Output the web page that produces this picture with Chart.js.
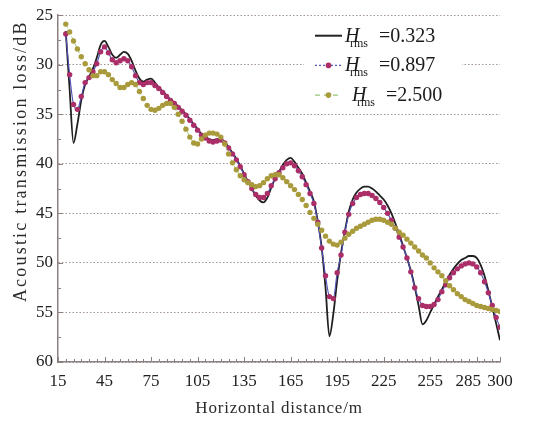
<!DOCTYPE html>
<html>
<head>
<meta charset="utf-8">
<script src="https://cdn.jsdelivr.net/npm/chart.js@4.4.1/dist/chart.umd.min.js"></script>
<style>
  html, body { margin: 0; padding: 0; background: #fff; }
  #wrap { width: 545px; height: 423px; }
</style>
</head>
<body>
<div id="wrap"><canvas id="myChart" width="545" height="423"></canvas></div>
<script>
// horizontal distance (m)
const distance = [
  20, 22.5, 25, 27.5, 30, 32.5, 35, 37.5, 40, 42.5,
  45, 47.5, 50, 52.5, 55, 57.5, 60, 62.5, 65, 67.5,
  70, 72.5, 75, 77.5, 80, 82.5, 85, 87.5, 90, 92.5,
  95, 97.5, 100, 102.5, 105, 107.5, 110, 112.5, 115, 117.5,
  120, 122.5, 125, 127.5, 130, 132.5, 135, 137.5, 140, 142.5,
  145, 147.5, 150, 152.5, 155, 157.5, 160, 162.5, 165, 167.5,
  170, 172.5, 175, 177.5, 180, 182.5, 185, 187.5, 190, 192.5,
  195, 197.5, 200, 202.5, 205, 207.5, 210, 212.5, 215, 217.5,
  220, 222.5, 225, 227.5, 230, 232.5, 235, 237.5, 240, 242.5,
  245, 247.5, 250, 252.5, 255, 257.5, 260, 262.5, 265, 267.5,
  270, 272.5, 275, 277.5, 280, 282.5, 285, 287.5, 290, 292.5,
  295, 297.5, 300
];

// transmission loss (dB), H_rms = 0.323
const loss0323 = [
  26.6, 32.5, 37.9, 36.0, 33.6, 32.0, 31.2, 30.4, 29.3, 28.0,
  27.6, 28.2, 29.0, 29.3, 29.0, 28.7, 28.9, 29.6, 30.6, 31.4,
  31.7, 31.5, 31.4, 31.8, 32.3, 32.7, 33.1, 33.5, 33.8, 34.2,
  34.6, 35.0, 35.5, 36.0, 36.5, 37.0, 37.3, 37.5, 37.6, 37.5,
  37.5, 37.8, 38.3, 38.9, 39.5, 40.2, 41.0, 41.8, 42.5, 43.2,
  43.7, 43.9, 43.4, 42.4, 41.5, 40.8, 40.1, 39.6, 39.4, 39.8,
  40.4, 41.0, 41.9, 42.8, 43.8, 45.8, 48.4, 52.5, 57.4, 55.2,
  51.8, 49.0, 46.8, 44.8, 43.6, 42.9, 42.5, 42.3, 42.3, 42.5,
  42.8, 43.2, 43.6, 44.2, 45.0, 46.0, 47.1, 48.3, 49.5, 50.8,
  52.4, 54.3, 56.2, 55.8, 55.0, 54.2, 53.4, 52.7, 51.9, 51.2,
  50.6, 50.1, 49.7, 49.5, 49.3, 49.3, 49.5, 50.2, 51.3, 52.8,
  54.4, 56.1, 57.8
];

// H_rms = 0.897
const loss0897 = [
  26.9, 31.0, 34.0, 34.5, 33.2, 31.8, 31.3, 30.7, 29.9, 28.7,
  28.2, 28.8, 29.5, 29.8, 29.6, 29.4, 29.6, 30.2, 31.1, 31.8,
  32.0, 31.8, 31.8, 32.1, 32.4, 32.8, 33.2, 33.6, 33.9, 34.3,
  34.7, 35.1, 35.6, 36.1, 36.6, 37.1, 37.4, 37.7, 37.8, 37.7,
  37.6, 37.9, 38.4, 39.0, 39.6, 40.3, 41.1, 41.8, 42.5, 43.1,
  43.4, 43.4, 43.0, 42.2, 41.5, 40.9, 40.4, 40.0, 39.9, 40.2,
  40.7, 41.3, 42.1, 43.0, 44.0, 45.9, 48.5, 51.3, 53.4, 53.6,
  51.0, 49.2, 46.9, 45.1, 44.0, 43.4, 43.1, 43.0, 43.0, 43.2,
  43.5, 43.9, 44.4, 45.0, 45.7, 46.5, 47.4, 48.4, 49.5, 50.9,
  52.5, 53.6, 54.3, 54.4, 54.4, 54.2, 53.7, 52.9, 52.2, 51.5,
  51.0, 50.6, 50.3, 50.1, 50.0, 50.1, 50.4, 51.0, 51.9, 53.0,
  54.3, 55.5, 56.5
];

// H_rms = 2.500
const loss2500 = [
  25.9, 26.7, 27.6, 28.4, 29.2, 29.9, 30.5, 31.1, 31.1, 30.7,
  30.7, 31.0, 31.5, 31.9, 32.3, 32.3, 32.0, 31.8, 32.0, 32.7,
  33.4, 34.1, 34.5, 34.6, 34.4, 34.1, 33.9, 33.9, 34.3, 35.0,
  35.7, 36.5, 37.3, 37.9, 38.0, 37.5, 37.1, 36.9, 36.9, 37.0,
  37.3, 38.0, 39.0, 39.9, 40.6, 41.2, 41.6, 41.9, 42.1, 42.3,
  42.2, 41.9, 41.5, 41.2, 41.1, 41.1, 41.4, 41.8, 42.2, 42.6,
  43.1, 43.6, 44.2, 44.9, 45.5, 46.1, 46.7, 47.3, 47.8, 48.1,
  48.2, 47.9, 47.5, 47.1, 46.8, 46.5, 46.3, 46.1, 45.9, 45.7,
  45.6, 45.6, 45.7, 45.9, 46.1, 46.5, 46.9, 47.2, 47.6, 48.0,
  48.4, 48.8, 49.2, 49.5, 50.0, 50.5, 50.9, 51.3, 51.8, 52.3,
  52.7, 53.1, 53.4, 53.7, 53.9, 54.1, 54.3, 54.4, 54.5, 54.6,
  54.7, 54.8, 54.9
];

const roughness = ["0.323", "0.897", "2.500"];
const xTickLabels = [15, 45, 75, 105, 135, 165, 195, 225, 255, 285, 300];
const yTickLabels = [25, 30, 35, 40, 45, 50, 55, 60];

const axisColor = "#8d8080";
const gridColor = "#a39494";
const serif = '"Liberation Serif", "Times New Roman", serif';

const toPoints = (vals) => distance.map((d, i) => ({ x: d, y: vals[i] }));

// legend sample styles, same order as datasets
const legendStyles = [
  { line: "#222222", dash: [], marker: null },
  { line: "#5a5ac0", dash: [2, 2], marker: "#ab2e69" },
  { line: "#97c57a", dash: [5, 4], marker: "#a99a3c" },
];

const decorations = {
  id: "decorations",
  afterDatasetsDraw(chart) {
    const { ctx, chartArea: ca, scales } = chart;
    const x = scales.x;
    const y = scales.y;
    ctx.save();

    // small inward ticks
    ctx.strokeStyle = axisColor;
    ctx.lineWidth = 1;
    ctx.beginPath();
    for (let v = 15; v <= 300; v += 5) {
      const px = Math.round(x.getPixelForValue(v)) + 0.5;
      const len = xTickLabels.includes(v) ? 5 : 3;
      ctx.moveTo(px, ca.bottom);
      ctx.lineTo(px, ca.bottom - len);
    }
    for (let v = 25; v <= 60; v += 2.5) {
      const py = Math.round(y.getPixelForValue(v)) + 0.5;
      const len = yTickLabels.includes(v) ? 5 : 3;
      ctx.moveTo(ca.left, py);
      ctx.lineTo(ca.left + len, py);
    }
    ctx.stroke();

    // legend box
    ctx.fillStyle = "#ffffff";
    ctx.fillRect(ca.right - 196, ca.top + 6, 158, 90);
    roughness.forEach((r, i) => {
      const st = legendStyles[i];
      const ly = ca.top + 20.5 + i * 29.7;
      const x0 = ca.right - 185;
      const x1 = ca.right - 158;
      ctx.strokeStyle = st.line;
      ctx.lineWidth = i === 0 ? 2 : 1.3;
      ctx.setLineDash(st.dash);
      ctx.beginPath();
      ctx.moveTo(x0, ly);
      ctx.lineTo(x1, ly);
      ctx.stroke();
      ctx.setLineDash([]);
      if (st.marker) {
        ctx.fillStyle = st.marker;
        ctx.beginPath();
        ctx.arc((x0 + x1) / 2, ly, 2.8, 0, Math.PI * 2);
        ctx.fill();
      }
      const tx = ca.right - (i === 2 ? 148 : 155);
      const base = ly + 6;
      ctx.fillStyle = "#1a1a1a";
      ctx.textAlign = "left";
      ctx.textBaseline = "alphabetic";
      ctx.font = "italic 20px " + serif;
      ctx.fillText("H", tx, base);
      ctx.font = "12px " + serif;
      ctx.fillText("rms", tx + 5, base + 5);
      ctx.font = "20px " + serif;
      ctx.fillText("=" + r, tx + 34, base);
    });
    ctx.restore();
  },
  afterDraw(chart) {
    const { ctx, chartArea: ca } = chart;
    ctx.save();
    ctx.fillStyle = "#2a2a2a";
    ctx.textAlign = "center";
    ctx.textBaseline = "middle";
    ctx.font = "17px " + serif;
    ctx.letterSpacing = "0.8px";
    ctx.fillText("Horizontal distance/m", (ca.left + ca.right) / 2, ca.bottom + 47);
    ctx.translate(ca.left - 37, ca.top + 146);
    ctx.rotate(-Math.PI / 2);
    ctx.font = "18px " + serif;
    ctx.letterSpacing = "2.2px";
    ctx.fillText("Acoustic transmission loss/dB", 0, 0);
    ctx.restore();
  },
};

const ctx = document.getElementById("myChart");

new Chart(ctx, {
  type: "line",
  data: {
    datasets: [
      {
        label: "H rms =" + roughness[0],
        data: toPoints(loss0323),
        borderColor: "#1f1f1f",
        borderWidth: 1.8,
        pointRadius: 0,
        cubicInterpolationMode: "monotone",
        order: 3,
      },
      {
        label: "H rms =" + roughness[1],
        data: toPoints(loss0897),
        borderColor: "#5050b8",
        borderWidth: 1.1,
        pointRadius: 2.7,
        pointBorderWidth: 0,
        pointBackgroundColor: "#ab2e69",
        cubicInterpolationMode: "monotone",
        order: 2,
      },
      {
        label: "H rms =" + roughness[2],
        data: toPoints(loss2500),
        borderColor: "#97c57a",
        borderWidth: 1,
        borderDash: [4, 3],
        pointRadius: 2.7,
        pointBorderWidth: 0,
        pointBackgroundColor: "#a99a3c",
        order: 1,
      },
    ],
  },
  options: {
    responsive: false,
    animation: false,
    devicePixelRatio: 1,
    layout: { padding: { left: 10, right: 45, top: 12, bottom: 10 } },
    plugins: {
      legend: { display: false },
      tooltip: { enabled: false },
    },
    scales: {
      x: {
        type: "linear",
        min: 15,
        max: 300,
        afterBuildTicks: (scale) => {
          scale.ticks = xTickLabels.map((v) => ({ value: v }));
        },
        afterFit: (scale) => {
          scale.height = 51;
        },
        ticks: {
          autoSkip: false,
          maxRotation: 0,
          padding: 9,
          color: "#222",
          font: { family: serif, size: 17 },
          // nudge 285 left so it does not collide with 300, as in the source
          callback: (v) => (v === 285 ? "285\u2007\u2007" : String(v)),
        },
        grid: { drawOnChartArea: false, drawTicks: false },
        border: { display: true, color: axisColor, width: 1.5 },
      },
      y: {
        type: "linear",
        reverse: true,
        min: 25,
        max: 60,
        afterBuildTicks: (scale) => {
          scale.ticks = yTickLabels.map((v) => ({ value: v }));
        },
        afterFit: (scale) => {
          scale.width = 48;
        },
        ticks: {
          padding: 5,
          color: "#222",
          font: { family: serif, size: 17 },
        },
        grid: { color: gridColor, lineWidth: 1, drawTicks: false },
        border: { display: true, color: axisColor, width: 1.5, dash: [1.5, 2] },
      },
    },
  },
  plugins: [decorations],
});
</script>
</body>
</html>
